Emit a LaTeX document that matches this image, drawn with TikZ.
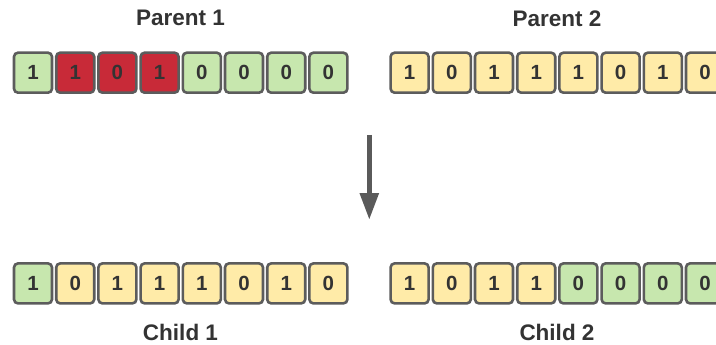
\documentclass[tikz,border=0pt]{standalone}
\usepackage{fontspec}
\setmainfont{Liberation Sans}
\usetikzlibrary{arrows.meta}
\definecolor{cgreen}{HTML}{C7E7AE}
\definecolor{cred}{HTML}{C82A38}
\definecolor{cyellow}{HTML}{FFEBA8}
\definecolor{cborder}{HTML}{5C5C5C}
\definecolor{ctext}{HTML}{333333}
\definecolor{carrow}{HTML}{5A5A5A}
\tikzset{
  bit/.style={draw=cborder, line width=2.6pt, rounded corners=4pt,
    minimum width=38pt, minimum height=40pt, inner sep=0pt,
    text=ctext, font=\fontsize{20.5}{24}\selectfont\bfseries},
  g/.style={bit, fill=cgreen},
  r/.style={bit, fill=cred},
  yl/.style={bit, fill=cyellow},
  lbl/.style={text=ctext, font=\fontsize{22.5}{26}\selectfont\bfseries, inner sep=0pt},
}
\begin{document}
\begin{tikzpicture}[x=1pt,y=-1pt]
\useasboundingbox (0,0) rectangle (716,345);
% Parent 1
\foreach \b/\s [count=\i from 0] in {1/g,1/r,0/r,1/r,0/g,0/g,0/g,0/g}
  \node[\s] (pa\i) at ({33+42.2*\i},72.7) {\b};
% Parent 2
\foreach \b/\s [count=\i from 0] in {1/yl,0/yl,1/yl,1/yl,1/yl,0/yl,1/yl,0/yl}
  \node[\s] (pb\i) at ({409.6+42.2*\i},72.7) {\b};
% Child 1
\foreach \b/\s [count=\i from 0] in {1/g,0/yl,1/yl,1/yl,1/yl,0/yl,1/yl,0/yl}
  \node[\s] (ca\i) at ({33+42.2*\i},283.4) {\b};
% Child 2
\foreach \b/\s [count=\i from 0] in {1/yl,0/yl,1/yl,1/yl,0/g,0/g,0/g,0/g}
  \node[\s] (cb\i) at ({409.6+42.2*\i},283.4) {\b};
% labels
\node[lbl] (lp1) at (180.5,18.3) {Parent 1};
\node[lbl] (lp2) at (557,18.3) {Parent 2};
\node[lbl] (lc1) at (180.5,332) {Child 1};
\node[lbl] (lc2) at (557,332) {Child 2};
% arrow
\coordinate (as) at (369.3,135);
\coordinate (ae) at (369.3,220);
\draw[carrow, line width=5.5pt, -{Triangle[length=27pt,width=18pt]}] (as) -- (ae);
\end{tikzpicture}
\end{document}
